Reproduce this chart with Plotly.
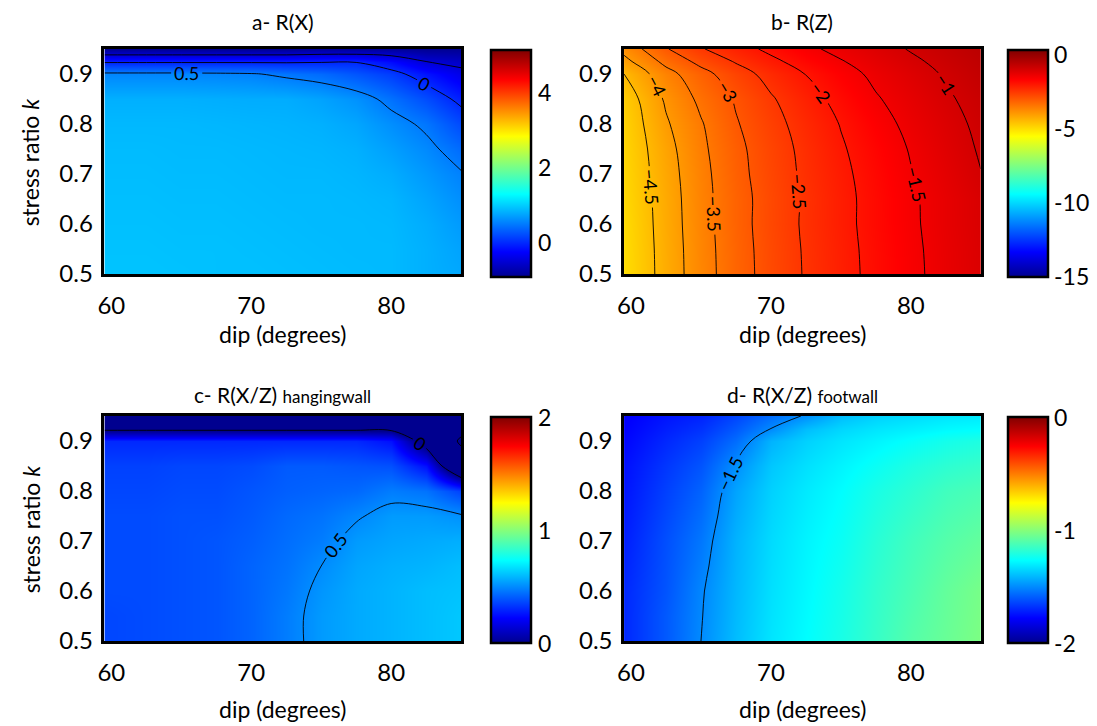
import plotly.graph_objects as go

# ---------------- data ----------------
dip = [59.5, 62.5, 65, 67.5, 70, 72.5, 75, 77.5, 80, 82.5, 85]
k = [0.5, 0.55, 0.6, 0.65, 0.7, 0.75, 0.8, 0.85, 0.9, 0.925, 0.95]

# a- R(X)   rows = k, cols = dip
RX = [
    [0.92, 0.92, 0.91, 0.90, 0.90, 0.89, 0.88, 0.87, 0.86, 0.80, 0.75],
    [0.91, 0.91, 0.90, 0.90, 0.89, 0.88, 0.87, 0.86, 0.86, 0.80, 0.72],
    [0.90, 0.90, 0.89, 0.89, 0.88, 0.87, 0.86, 0.86, 0.85, 0.78, 0.67],
    [0.89, 0.89, 0.88, 0.88, 0.87, 0.86, 0.86, 0.85, 0.83, 0.73, 0.60],
    [0.88, 0.88, 0.87, 0.87, 0.86, 0.85, 0.85, 0.83, 0.78, 0.66, 0.52],
    [0.87, 0.87, 0.86, 0.86, 0.85, 0.84, 0.83, 0.80, 0.70, 0.57, 0.38],
    [0.85, 0.85, 0.85, 0.84, 0.83, 0.82, 0.80, 0.74, 0.60, 0.45, 0.18],
    [0.80, 0.80, 0.80, 0.79, 0.78, 0.78, 0.72, 0.62, 0.42, 0.20, -0.08],
    [0.55, 0.55, 0.55, 0.54, 0.52, 0.45, 0.38, 0.25, 0.10, -0.15, -0.40],
    [-0.05, -0.05, -0.05, -0.05, -0.05, -0.05, -0.03, -0.02, -0.20, -0.50, -0.60],
    [-0.90, -0.90, -0.90, -0.90, -0.90, -0.90, -0.85, -0.85, -0.85, -0.90, -0.90],
]

# b- R(Z)
RZ = [
    [-5.05, -4.30, -3.72, -3.22, -2.81, -2.46, -2.16, -1.87, -1.60, -1.35, -1.13],
    [-5.04, -4.29, -3.71, -3.21, -2.80, -2.45, -2.15, -1.86, -1.59, -1.34, -1.12],
    [-5.02, -4.27, -3.69, -3.19, -2.78, -2.43, -2.13, -1.84, -1.57, -1.32, -1.10],
    [-4.98, -4.26, -3.67, -3.19, -2.79, -2.44, -2.13, -1.84, -1.56, -1.32, -1.09],
    [-4.95, -4.22, -3.65, -3.15, -2.76, -2.41, -2.10, -1.81, -1.52, -1.27, -1.01],
    [-4.92, -4.17, -3.60, -3.12, -2.73, -2.38, -2.05, -1.76, -1.47, -1.21, -0.96],
    [-4.88, -4.06, -3.54, -3.04, -2.66, -2.31, -1.98, -1.67, -1.39, -1.15, -0.91],
    [-4.80, -3.93, -3.39, -2.95, -2.55, -2.19, -1.85, -1.54, -1.30, -1.06, -0.85],
    [-4.50, -3.68, -3.17, -2.72, -2.33, -1.99, -1.68, -1.40, -1.18, -0.96, -0.75],
    [-4.15, -3.36, -2.86, -2.46, -2.11, -1.80, -1.53, -1.29, -1.08, -0.88, -0.69],
    [-3.85, -3.04, -2.54, -2.20, -1.89, -1.60, -1.37, -1.17, -0.97, -0.80, -0.62],
]

# c- R(X/Z) hangingwall
RXZ_hw = [
    [0.36, 0.37, 0.38, 0.39, 0.42, 0.47, 0.53, 0.56, 0.58, 0.60, 0.62],
    [0.36, 0.37, 0.38, 0.39, 0.42, 0.47, 0.53, 0.56, 0.58, 0.60, 0.62],
    [0.37, 0.37, 0.38, 0.39, 0.42, 0.46, 0.52, 0.56, 0.58, 0.60, 0.61],
    [0.37, 0.37, 0.38, 0.39, 0.42, 0.45, 0.50, 0.55, 0.57, 0.58, 0.60],
    [0.37, 0.37, 0.38, 0.39, 0.41, 0.44, 0.47, 0.53, 0.55, 0.56, 0.57],
    [0.37, 0.37, 0.38, 0.38, 0.40, 0.43, 0.45, 0.49, 0.53, 0.53, 0.51],
    [0.36, 0.36, 0.37, 0.37, 0.39, 0.41, 0.42, 0.43, 0.47, 0.45, 0.35],
    [0.35, 0.35, 0.36, 0.36, 0.37, 0.40, 0.40, 0.39, 0.38, 0.25, -0.30],
    [0.30, 0.30, 0.30, 0.30, 0.30, 0.30, 0.30, 0.30, 0.25, -0.10, -0.55],
    [-0.05, -0.05, -0.05, -0.05, -0.05, -0.05, -0.05, -0.05, -0.05, -0.30, -0.40],
    [-0.15, -0.15, -0.15, -0.15, -0.15, -0.15, -0.15, -0.15, -0.15, -0.20, -0.20],
]

# d- R(X/Z) footwall
RXZ_fw = [
    [-1.70, -1.60, -1.50, -1.40, -1.32, -1.27, -1.22, -1.16, -1.10, -1.06, -1.02],
    [-1.70, -1.60, -1.505, -1.405, -1.325, -1.275, -1.225, -1.165, -1.11, -1.065, -1.025],
    [-1.70, -1.61, -1.51, -1.41, -1.33, -1.28, -1.23, -1.17, -1.12, -1.07, -1.03],
    [-1.71, -1.615, -1.525, -1.415, -1.335, -1.285, -1.24, -1.18, -1.13, -1.085, -1.05],
    [-1.72, -1.62, -1.54, -1.42, -1.34, -1.29, -1.25, -1.19, -1.14, -1.10, -1.07],
    [-1.73, -1.635, -1.56, -1.435, -1.35, -1.30, -1.26, -1.205, -1.16, -1.12, -1.095],
    [-1.74, -1.65, -1.58, -1.45, -1.36, -1.31, -1.27, -1.22, -1.18, -1.14, -1.12],
    [-1.75, -1.67, -1.61, -1.49, -1.38, -1.33, -1.29, -1.25, -1.21, -1.18, -1.16],
    [-1.77, -1.70, -1.65, -1.56, -1.42, -1.36, -1.32, -1.29, -1.26, -1.23, -1.21],
    [-1.78, -1.72, -1.68, -1.60, -1.50, -1.40, -1.35, -1.32, -1.30, -1.28, -1.27],
    [-1.79, -1.74, -1.71, -1.64, -1.56, -1.49, -1.40, -1.36, -1.34, -1.32, -1.31],
]

titles = ["a- R(X)", "b- R(Z)",
          "c- R(X/Z) <span style='font-size:17px'>hangingwall</span>",
          "d- R(X/Z) <span style='font-size:17px'>footwall</span>"]
x_ticks = [60, 70, 80]
y_ticks = [0.5, 0.6, 0.7, 0.8, 0.9]
y_tick_text = ["0.5", "0.6", "0.7", "0.8", "0.9"]
cbar_ticks = [[0, 2, 4], [0, -5, -10, -15], [0, 1, 2], [0, -1, -2]]
cbar_ranges = [(-0.93, 5.12), (-15.1, 0.3), (0, 2), (-2, 0)]
contour_levels = [(-0.5, 0.5, 0.5), (-4.5, -1.0, 0.5), (-0.5, 0.5, 0.5), (-1.5, -1.5, 0.5)]

# ---------------- styling ----------------
W = 1097
H = 739          # figure height
REF_H = 726      # design height in window pixels
FONT = "Lato"
jet = [[0.0, "rgb(0,0,143)"], [0.11, "rgb(0,0,255)"], [0.365, "rgb(0,255,255)"],
       [0.62, "rgb(255,255,0)"], [0.87, "rgb(255,0,0)"], [1.0, "rgb(128,0,0)"]]

# pixel boxes in the window: (left, right, top, bottom)
plot_boxes = [(98, 457, 49, 274), (621, 980, 49, 274), (98, 457, 416, 641), (621, 980, 416, 641)]
cbar_boxes = [(487, 527, 50, 277), (1007, 1047, 50, 277), (487, 527, 417, 643), (1007, 1047, 417, 643)]


def px(x):
    return x / W


def py(y):
    return 1 - y / REF_H


fig = go.Figure()
datasets = [RX, RZ, RXZ_hw, RXZ_fw]
layout_axes = {}
annotations = []
for i, z in enumerate(datasets):
    n = "" if i == 0 else str(i + 1)
    xa, ya = "x" + n, "y" + n
    l, r, t, b = plot_boxes[i]
    cl, cr, ct, cb = cbar_boxes[i]
    zmin, zmax = cbar_ranges[i]
    fig.add_trace(go.Heatmap(
        x=dip, y=k, z=z, zsmooth="best", colorscale=jet, zmin=zmin, zmax=zmax,
        xaxis=xa, yaxis=ya, hoverinfo="skip",
        colorbar=dict(
            x=px(cl), xanchor="left", xpad=0, ypad=0,
            y=py((ct + cb) / 2), yanchor="middle",
            len=(cb - ct) / REF_H, lenmode="fraction",
            thickness=cr - cl, thicknessmode="pixels",
            outlinewidth=2.5, outlinecolor="black",
            tickvals=cbar_ticks[i], ticks="", showticklabels=False,
        ),
    ))
    # colorbar tick labels
    for tv in cbar_ticks[i]:
        frac = (tv - zmin) / (zmax - zmin)
        ypix = cb - frac * (cb - ct)
        annotations.append(dict(text=str(tv), x=px(cr + 5), y=py(ypix), xref="paper", yref="paper",
                                showarrow=False, xanchor="left", yanchor="middle",
                                font=dict(family=FONT, size=23, color="black")))
    s, e, sz = contour_levels[i]
    fig.add_trace(go.Contour(
        x=dip, y=k, z=z, xaxis=xa, yaxis=ya, showscale=False, hoverinfo="skip",
        contours=dict(coloring="none", start=s, end=e, size=sz, showlabels=True,
                      labelfont=dict(family=FONT, size=18, color="black"),
                      labelformat=".1~f"),
        line=dict(color="black", width=0.9),
    ))
    common = dict(showline=True, linecolor="black", linewidth=2.5, mirror=True,
                  showgrid=False, zeroline=False, ticks="",
                  tickfont=dict(family=FONT, size=24, color="black"))
    layout_axes["xaxis" + n] = dict(domain=[px(l), px(r)], range=[59.5, 85], anchor=ya,
                                   tickvals=x_ticks, ticklabelstandoff=8, **common)
    layout_axes["yaxis" + n] = dict(domain=[py(b), py(t)], range=[0.5, 0.95], anchor=xa,
                                   tickvals=y_ticks, ticktext=y_tick_text,
                                   ticklabelstandoff=4, **common)
    cx = (l + r) / 2
    title_y = 22 if i < 2 else 394
    annotations.append(dict(text=titles[i], x=px(cx), y=py(title_y), xref="paper", yref="paper",
                            showarrow=False, xanchor="center", yanchor="middle",
                            font=dict(family=FONT, size=21, color="black")))
    xt_y = 334 if i < 2 else 709
    annotations.append(dict(text="dip (degrees)", x=px(cx), y=py(xt_y), xref="paper", yref="paper",
                            showarrow=False, xanchor="center", yanchor="middle",
                            font=dict(family=FONT, size=23, color="black")))
    if i in (0, 2):
        annotations.append(dict(text="stress ratio <i>k</i>", x=px(24), y=py((t + b) / 2),
                                xref="paper", yref="paper", textangle=-90,
                                showarrow=False, xanchor="center", yanchor="middle",
                                font=dict(family=FONT, size=23, color="black")))

fig.update_layout(
    width=W, height=H, margin=dict(l=0, r=0, t=0, b=0),
    paper_bgcolor="white", plot_bgcolor="white", showlegend=False,
    annotations=annotations, **layout_axes,
)
fig.write_html(
    "out.html",
    config={"displayModeBar": False},
    post_script="document.body.style.margin='0';document.documentElement.style.overflow='hidden';",
)
